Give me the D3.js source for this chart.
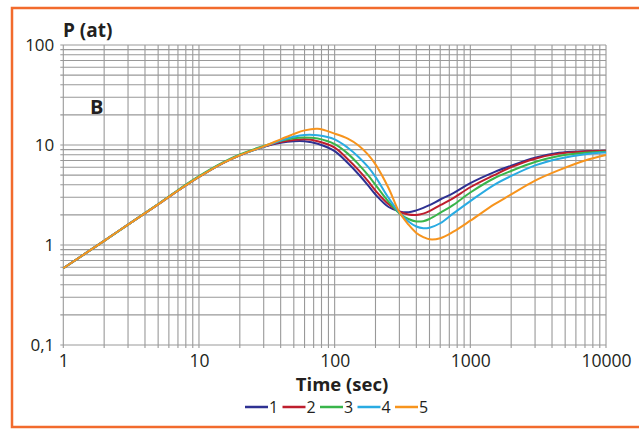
<!DOCTYPE html>
<html><head><meta charset="utf-8">
<script src="https://cdn.jsdelivr.net/npm/d3@7"></script>
<style>
body{margin:0;background:#fff}
svg{display:block}
text{font-family:"Open Sans",sans-serif;fill:#231f20}
</style>
</head><body>
<svg id="chart" width="639" height="429"></svg>
<script>
// ---- data ----
const times   = [1, 2, 3, 5, 7, 10, 15, 20, 30, 40, 50, 60, 75, 100, 125, 150, 175, 200, 250, 300, 350, 400, 450, 500, 600, 750, 1000, 1500, 2000, 3000, 4500, 7000, 10000];
const series1 = [0.585, 1.1, 1.6, 2.55, 3.5, 4.8, 6.6, 7.9, 9.6, 10.5, 10.9, 10.9, 10.3, 8.7, 6.6, 5.1, 4.0, 3.2, 2.4, 2.17, 2.13, 2.22, 2.35, 2.5, 2.85, 3.3, 4.15, 5.35, 6.2, 7.45, 8.35, 8.65, 8.75];
const series2 = [0.585, 1.1, 1.6, 2.55, 3.5, 4.8, 6.6, 7.9, 9.6, 10.7, 11.2, 11.4, 10.9, 9.4, 7.2, 5.6, 4.4, 3.5, 2.55, 2.15, 2.02, 2.0, 2.06, 2.18, 2.5, 2.95, 3.78, 5.0, 6.0, 7.3, 8.2, 8.6, 8.75];
const series3 = [0.585, 1.1, 1.6, 2.57, 3.55, 4.88, 6.7, 8.05, 9.8, 11.0, 11.7, 11.9, 11.6, 10.2, 8.2, 6.4, 5.05, 4.0, 2.7, 2.07, 1.82, 1.72, 1.73, 1.82, 2.1, 2.52, 3.35, 4.65, 5.5, 6.75, 7.75, 8.35, 8.55];
const series4 = [0.585, 1.1, 1.6, 2.55, 3.5, 4.8, 6.6, 7.9, 9.6, 11.1, 12.1, 12.6, 12.5, 11.4, 9.4, 7.6, 6.1, 4.8, 2.95, 2.1, 1.72, 1.53, 1.47, 1.49, 1.65, 2.07, 2.75, 4.0, 4.9, 6.25, 7.3, 8.1, 8.4];
const series5 = [0.585, 1.1, 1.6, 2.55, 3.5, 4.8, 6.6, 7.9, 9.7, 11.4, 12.9, 14.0, 14.5, 13.0, 11.6, 9.9, 8.1, 6.4, 3.7, 2.12, 1.6, 1.32, 1.2, 1.14, 1.17, 1.36, 1.75, 2.55, 3.2, 4.4, 5.6, 7.0, 7.95];
const seriesNames  = ["1", "2", "3", "4", "5"];
const seriesColors = ["#2e3192", "#be1e2d", "#39b54a", "#29abe2", "#f7941d"];
const xTickValues = [1, 10, 100, 1000, 10000];
const xTickLabels = ["1", "10", "100", "1000", "10000"];
const yTickValues = [0.1, 1, 10, 100];
const yTickLabels = ["0,1", "1", "10", "100"];
const yTitle = "P (at)";
const xTitle = "Time (sec)";
const panelLabel = "B";

const allSeries = [series1, series2, series3, series4, series5];

const svg = d3.select("#chart");

// frame (orange border, right side cut off)
svg.append("rect").attr("x", 12).attr("y", 8).attr("width", 660).attr("height", 419)
  .attr("fill", "#fff").attr("stroke", "#f26b2d").attr("stroke-width", 2.5);

const x = d3.scaleLog().domain([1, 10000]).range([63.3, 606]);
const y = d3.scaleLog().domain([0.1, 100]).range([345, 45]);

// gridlines
const grid = svg.append("g");
const xGrid = [], yGrid = [];
for (let d = 1; d < 10000; d *= 10) for (let m = 1; m < 10; m++) xGrid.push(d * m);
xGrid.push(10000);
for (let d = 0.1; d < 99; d *= 10) for (let m = 1; m < 10; m++) yGrid.push(+(d * m).toFixed(3));
yGrid.push(100);
grid.selectAll("line.v").data(xGrid).join("line").attr("class", "v")
  .attr("x1", d => x(d)).attr("x2", d => x(d)).attr("y1", y(100)).attr("y2", y(0.1) + 3)
  .attr("stroke", "#999").attr("stroke-width", 1.1);
grid.selectAll("line.h").data(yGrid).join("line").attr("class", "h")
  .attr("x1", x(1) - 3).attr("x2", x(10000)).attr("y1", d => y(d)).attr("y2", d => y(d))
  .attr("stroke", "#999").attr("stroke-width", 1.1);

// axes (labels only)
const xAxis = d3.axisBottom(x).tickValues(xTickValues).tickSize(0).tickPadding(0)
  .tickFormat((d, i) => xTickLabels[i]);
const gx = svg.append("g").attr("transform", `translate(0,${y(0.1)})`).call(xAxis);
gx.select(".domain").remove();
gx.selectAll("text").attr("dy", null).attr("y", 22).style("font-size", "17.5px")
  .style("font-family", '"Open Sans",sans-serif').attr("fill", "#231f20");

const yAxis = d3.axisLeft(y).tickValues(yTickValues).tickSize(0).tickPadding(9)
  .tickFormat((d, i) => yTickLabels[i]);
const gy = svg.append("g").attr("transform", `translate(${x(1)},0)`).call(yAxis);
gy.select(".domain").remove();
gy.selectAll("text").style("font-size", "17px")
  .style("font-family", '"Open Sans",sans-serif').attr("fill", "#231f20");

// curves
const line = d3.line().x(d => x(d[0])).y(d => y(d[1])).curve(d3.curveCatmullRom.alpha(0.5));
allSeries.forEach((s, i) => {
  svg.append("path").datum(times.map((t, j) => [t, s[j]]))
    .attr("d", line).attr("fill", "none")
    .attr("stroke", seriesColors[i]).attr("stroke-width", 2);
});

// titles
svg.append("text").attr("x", 63).attr("y", 37).text(yTitle)
  .style("font-size", "19px").style("font-weight", "bold");
svg.append("text").attr("x", 90).attr("y", 114).text(panelLabel)
  .style("font-size", "20px").style("font-weight", "bold");
svg.append("text").attr("x", 342).attr("y", 391).attr("text-anchor", "middle").text(xTitle)
  .style("font-size", "18.5px").style("font-weight", "bold");

// legend
const lg = svg.append("g").attr("transform", "translate(245,407)");
seriesNames.forEach((n, i) => {
  const g = lg.append("g").attr("transform", `translate(${i * 37.5},0)`);
  g.append("line").attr("x1", 0).attr("x2", 23).attr("y1", 0).attr("y2", 0)
    .attr("stroke", seriesColors[i]).attr("stroke-width", 2.5);
  g.append("text").attr("x", 24).attr("y", 6).text(n).style("font-size", "16px");
});
</script>
</body></html>
